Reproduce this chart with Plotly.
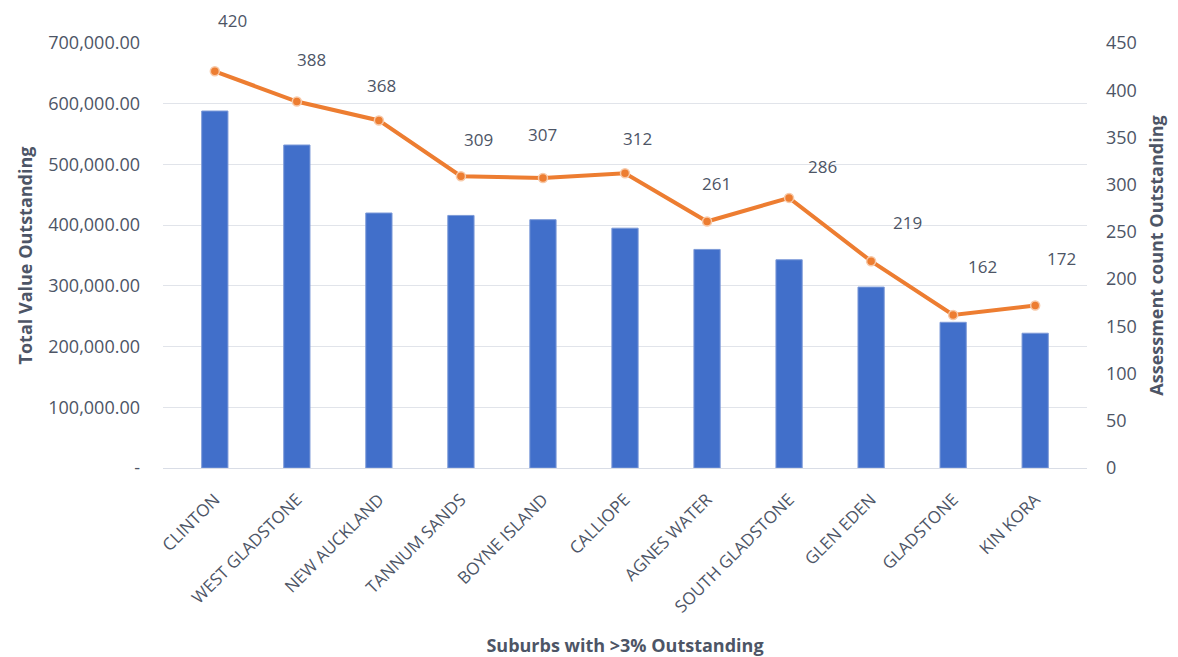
import plotly.graph_objects as go

suburbs = ["CLINTON", "WEST GLADSTONE", "NEW AUCKLAND", "TANNUM SANDS", "BOYNE ISLAND",
           "CALLIOPE", "AGNES WATER", "SOUTH GLADSTONE", "GLEN EDEN", "GLADSTONE", "KIN KORA"]
total_value = [588000, 532000, 420000, 416000, 409000, 395000, 360000, 343000, 298000, 240000, 222000]
assessment_count = [420, 388, 368, 309, 307, 312, 261, 286, 219, 162, 172]

left_tickvals = [0, 100000, 200000, 300000, 400000, 500000, 600000, 700000]
left_ticktext = ["-", "100,000.00", "200,000.00", "300,000.00", "400,000.00",
                 "500,000.00", "600,000.00", "700,000.00"]
right_tickvals = [0, 50, 100, 150, 200, 250, 300, 350, 400, 450]

# label offsets (style only, in pixels)
label_dx = [18, 15, 3, 18, 0, 12, 9, 33, 36, 29, 26]
label_dy = [51, 42, 35, 37, 44, 35, 38, 31, 39, 49, 47]

FONT = "Open Sans"
TICK_COLOR = "#4d5566"
TITLE_COLOR = "#4d5566"

fig = go.Figure()
fig.add_trace(go.Bar(
    x=suburbs, y=total_value, name="Total Value Outstanding",
    marker=dict(color="#416fca", line=dict(color="#7d9ad8", width=1)),
    yaxis="y"))
fig.add_trace(go.Scatter(
    x=suburbs, y=assessment_count, name="Assessment count Outstanding",
    mode="lines+markers", yaxis="y2",
    line=dict(color="#ED7D31", width=4),
    marker=dict(size=9, color="#ED7D31", line=dict(color="#f7c9a8", width=1.5))))

for s, v, dx, dy in zip(suburbs, assessment_count, label_dx, label_dy):
    fig.add_annotation(x=s, y=v, yref="y2", text=str(v), showarrow=False,
                       xshift=dx, yshift=dy,
                       font=dict(family=FONT, size=17, color=TICK_COLOR))

fig.update_layout(
    width=1178, height=657,
    margin=dict(l=163, r=91, t=43, b=189),
    plot_bgcolor="white", paper_bgcolor="white",
    showlegend=False, bargap=0.68,
    font=dict(family=FONT, color=TICK_COLOR),
    xaxis=dict(tickangle=-45, tickfont=dict(size=17, color=TICK_COLOR),
               ticklabelstandoff=14, automargin=False,
               showline=True, linecolor="#d9dde6", linewidth=1, ticks="",
               title=dict(text="<b>Suburbs with >3% Outstanding</b>",
                          font=dict(size=18, color=TITLE_COLOR), standoff=24)),
    yaxis=dict(range=[0, 700000], tickvals=left_tickvals, ticktext=left_ticktext,
               tickfont=dict(size=18, color=TICK_COLOR), showgrid=True,
               ticklabelstandoff=22, automargin=False,
               gridcolor="#e1e4ea", gridwidth=1, zeroline=False, ticklen=0,
               title=dict(text="<b>Total Value Outstanding</b>",
                          font=dict(size=18, color=TITLE_COLOR), standoff=10)),
    yaxis2=dict(range=[0, 450], tickvals=right_tickvals, overlaying="y", side="right",
                showgrid=False, zeroline=False, ticklabelstandoff=18, automargin=False,
                tickfont=dict(size=18, color=TICK_COLOR),
                title=dict(text="<b>Assessment count Outstanding</b>",
                           font=dict(size=18, color=TITLE_COLOR), standoff=14)),
)

fig.write_html("out.html")
